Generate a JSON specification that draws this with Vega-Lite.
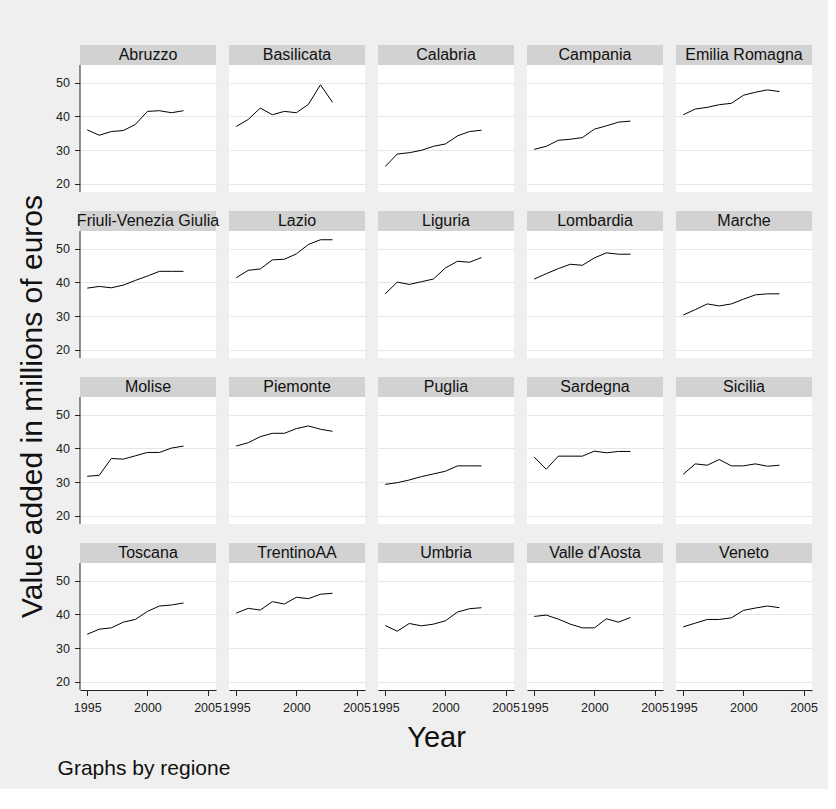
{
  "$schema": "https://vega.github.io/schema/vega-lite/v6.json",
  "background": "#efefef",
  "padding": {"left": 17, "top": 44, "right": 10, "bottom": 10},
  "config": {
    "font": "Liberation Sans",
    "view": {"stroke": null, "fill": "white"},
    "axis": {"labelFont": "Liberation Sans", "titleFont": "Liberation Sans", "labelColor": "#222222", "titleColor": "#111111", "tickColor": "#222222", "domainColor": "#222222", "zindex": 0},
    "header": {"labels": false, "title": null, "labelFontSize": 1, "labelPadding": 0, "labelExpr": "''"},
    "facet": {"spacing": 0},
    "title": {"font": "Liberation Sans"},
    "concat": {"spacing": 0}
  },
  "title": {"text": "Graphs by regione", "orient": "bottom", "anchor": "start", "fontSize": 21, "fontWeight": "normal", "color": "#111111", "dx": 40, "offset": 5},
  "vconcat": [{
    "title": {"text": "Value added in millions of euros", "orient": "left", "anchor": "middle", "fontSize": 30, "fontWeight": "normal", "color": "#111111", "offset": 8, "dx": -8},
    "vconcat": [{
      "title": {"text": "Year", "orient": "bottom", "anchor": "middle", "fontSize": 29, "fontWeight": "normal", "color": "#111111", "offset": 10},
      "data": {"values": [
        {"regione": "Abruzzo", "year": 1995, "value": 36.0},
        {"regione": "Abruzzo", "year": 1996, "value": 34.4},
        {"regione": "Abruzzo", "year": 1997, "value": 35.5},
        {"regione": "Abruzzo", "year": 1998, "value": 35.8},
        {"regione": "Abruzzo", "year": 1999, "value": 37.6},
        {"regione": "Abruzzo", "year": 2000, "value": 41.5},
        {"regione": "Abruzzo", "year": 2001, "value": 41.7},
        {"regione": "Abruzzo", "year": 2002, "value": 41.1},
        {"regione": "Abruzzo", "year": 2003, "value": 41.7},
        {"regione": "Basilicata", "year": 1995, "value": 37.0},
        {"regione": "Basilicata", "year": 1996, "value": 39.1},
        {"regione": "Basilicata", "year": 1997, "value": 42.5},
        {"regione": "Basilicata", "year": 1998, "value": 40.5},
        {"regione": "Basilicata", "year": 1999, "value": 41.5},
        {"regione": "Basilicata", "year": 2000, "value": 41.1},
        {"regione": "Basilicata", "year": 2001, "value": 43.6},
        {"regione": "Basilicata", "year": 2002, "value": 49.4},
        {"regione": "Basilicata", "year": 2003, "value": 44.2},
        {"regione": "Calabria", "year": 1995, "value": 25.1},
        {"regione": "Calabria", "year": 1996, "value": 28.8},
        {"regione": "Calabria", "year": 1997, "value": 29.2},
        {"regione": "Calabria", "year": 1998, "value": 29.9},
        {"regione": "Calabria", "year": 1999, "value": 31.1},
        {"regione": "Calabria", "year": 2000, "value": 31.8},
        {"regione": "Calabria", "year": 2001, "value": 34.2},
        {"regione": "Calabria", "year": 2002, "value": 35.5},
        {"regione": "Calabria", "year": 2003, "value": 35.9},
        {"regione": "Campania", "year": 1995, "value": 30.2},
        {"regione": "Campania", "year": 1996, "value": 31.1},
        {"regione": "Campania", "year": 1997, "value": 32.9},
        {"regione": "Campania", "year": 1998, "value": 33.2},
        {"regione": "Campania", "year": 1999, "value": 33.7},
        {"regione": "Campania", "year": 2000, "value": 36.2},
        {"regione": "Campania", "year": 2001, "value": 37.2},
        {"regione": "Campania", "year": 2002, "value": 38.3},
        {"regione": "Campania", "year": 2003, "value": 38.6},
        {"regione": "Emilia Romagna", "year": 1995, "value": 40.5},
        {"regione": "Emilia Romagna", "year": 1996, "value": 42.2},
        {"regione": "Emilia Romagna", "year": 1997, "value": 42.7},
        {"regione": "Emilia Romagna", "year": 1998, "value": 43.5},
        {"regione": "Emilia Romagna", "year": 1999, "value": 43.9},
        {"regione": "Emilia Romagna", "year": 2000, "value": 46.3},
        {"regione": "Emilia Romagna", "year": 2001, "value": 47.2},
        {"regione": "Emilia Romagna", "year": 2002, "value": 47.9},
        {"regione": "Emilia Romagna", "year": 2003, "value": 47.4},
        {"regione": "Friuli-Venezia Giulia", "year": 1995, "value": 38.3},
        {"regione": "Friuli-Venezia Giulia", "year": 1996, "value": 38.8},
        {"regione": "Friuli-Venezia Giulia", "year": 1997, "value": 38.4},
        {"regione": "Friuli-Venezia Giulia", "year": 1998, "value": 39.2},
        {"regione": "Friuli-Venezia Giulia", "year": 1999, "value": 40.6},
        {"regione": "Friuli-Venezia Giulia", "year": 2000, "value": 41.9},
        {"regione": "Friuli-Venezia Giulia", "year": 2001, "value": 43.3},
        {"regione": "Friuli-Venezia Giulia", "year": 2002, "value": 43.3},
        {"regione": "Friuli-Venezia Giulia", "year": 2003, "value": 43.3},
        {"regione": "Lazio", "year": 1995, "value": 41.4},
        {"regione": "Lazio", "year": 1996, "value": 43.6},
        {"regione": "Lazio", "year": 1997, "value": 44.0},
        {"regione": "Lazio", "year": 1998, "value": 46.7},
        {"regione": "Lazio", "year": 1999, "value": 46.9},
        {"regione": "Lazio", "year": 2000, "value": 48.5},
        {"regione": "Lazio", "year": 2001, "value": 51.3},
        {"regione": "Lazio", "year": 2002, "value": 52.7},
        {"regione": "Lazio", "year": 2003, "value": 52.7},
        {"regione": "Liguria", "year": 1995, "value": 36.6},
        {"regione": "Liguria", "year": 1996, "value": 40.1},
        {"regione": "Liguria", "year": 1997, "value": 39.4},
        {"regione": "Liguria", "year": 1998, "value": 40.2},
        {"regione": "Liguria", "year": 1999, "value": 41.0},
        {"regione": "Liguria", "year": 2000, "value": 44.3},
        {"regione": "Liguria", "year": 2001, "value": 46.3},
        {"regione": "Liguria", "year": 2002, "value": 46.0},
        {"regione": "Liguria", "year": 2003, "value": 47.4},
        {"regione": "Lombardia", "year": 1995, "value": 41.0},
        {"regione": "Lombardia", "year": 1996, "value": 42.6},
        {"regione": "Lombardia", "year": 1997, "value": 44.1},
        {"regione": "Lombardia", "year": 1998, "value": 45.4},
        {"regione": "Lombardia", "year": 1999, "value": 45.1},
        {"regione": "Lombardia", "year": 2000, "value": 47.3},
        {"regione": "Lombardia", "year": 2001, "value": 48.8},
        {"regione": "Lombardia", "year": 2002, "value": 48.4},
        {"regione": "Lombardia", "year": 2003, "value": 48.4},
        {"regione": "Marche", "year": 1995, "value": 30.3},
        {"regione": "Marche", "year": 1996, "value": 31.9},
        {"regione": "Marche", "year": 1997, "value": 33.6},
        {"regione": "Marche", "year": 1998, "value": 33.0},
        {"regione": "Marche", "year": 1999, "value": 33.6},
        {"regione": "Marche", "year": 2000, "value": 35.0},
        {"regione": "Marche", "year": 2001, "value": 36.3},
        {"regione": "Marche", "year": 2002, "value": 36.6},
        {"regione": "Marche", "year": 2003, "value": 36.6},
        {"regione": "Molise", "year": 1995, "value": 31.7},
        {"regione": "Molise", "year": 1996, "value": 32.0},
        {"regione": "Molise", "year": 1997, "value": 37.0},
        {"regione": "Molise", "year": 1998, "value": 36.8},
        {"regione": "Molise", "year": 1999, "value": 37.8},
        {"regione": "Molise", "year": 2000, "value": 38.8},
        {"regione": "Molise", "year": 2001, "value": 38.8},
        {"regione": "Molise", "year": 2002, "value": 40.1},
        {"regione": "Molise", "year": 2003, "value": 40.7},
        {"regione": "Piemonte", "year": 1995, "value": 40.7},
        {"regione": "Piemonte", "year": 1996, "value": 41.7},
        {"regione": "Piemonte", "year": 1997, "value": 43.5},
        {"regione": "Piemonte", "year": 1998, "value": 44.5},
        {"regione": "Piemonte", "year": 1999, "value": 44.5},
        {"regione": "Piemonte", "year": 2000, "value": 45.9},
        {"regione": "Piemonte", "year": 2001, "value": 46.7},
        {"regione": "Piemonte", "year": 2002, "value": 45.7},
        {"regione": "Piemonte", "year": 2003, "value": 45.1},
        {"regione": "Puglia", "year": 1995, "value": 29.3},
        {"regione": "Puglia", "year": 1996, "value": 29.8},
        {"regione": "Puglia", "year": 1997, "value": 30.6},
        {"regione": "Puglia", "year": 1998, "value": 31.6},
        {"regione": "Puglia", "year": 1999, "value": 32.4},
        {"regione": "Puglia", "year": 2000, "value": 33.2},
        {"regione": "Puglia", "year": 2001, "value": 34.8},
        {"regione": "Puglia", "year": 2002, "value": 34.8},
        {"regione": "Puglia", "year": 2003, "value": 34.8},
        {"regione": "Sardegna", "year": 1995, "value": 37.4},
        {"regione": "Sardegna", "year": 1996, "value": 33.8},
        {"regione": "Sardegna", "year": 1997, "value": 37.7},
        {"regione": "Sardegna", "year": 1998, "value": 37.7},
        {"regione": "Sardegna", "year": 1999, "value": 37.7},
        {"regione": "Sardegna", "year": 2000, "value": 39.2},
        {"regione": "Sardegna", "year": 2001, "value": 38.7},
        {"regione": "Sardegna", "year": 2002, "value": 39.1},
        {"regione": "Sardegna", "year": 2003, "value": 39.1},
        {"regione": "Sicilia", "year": 1995, "value": 32.3},
        {"regione": "Sicilia", "year": 1996, "value": 35.4},
        {"regione": "Sicilia", "year": 1997, "value": 35.0},
        {"regione": "Sicilia", "year": 1998, "value": 36.7},
        {"regione": "Sicilia", "year": 1999, "value": 34.8},
        {"regione": "Sicilia", "year": 2000, "value": 34.8},
        {"regione": "Sicilia", "year": 2001, "value": 35.4},
        {"regione": "Sicilia", "year": 2002, "value": 34.7},
        {"regione": "Sicilia", "year": 2003, "value": 35.0},
        {"regione": "Toscana", "year": 1995, "value": 34.1},
        {"regione": "Toscana", "year": 1996, "value": 35.6},
        {"regione": "Toscana", "year": 1997, "value": 36.0},
        {"regione": "Toscana", "year": 1998, "value": 37.7},
        {"regione": "Toscana", "year": 1999, "value": 38.5},
        {"regione": "Toscana", "year": 2000, "value": 40.9},
        {"regione": "Toscana", "year": 2001, "value": 42.5},
        {"regione": "Toscana", "year": 2002, "value": 42.8},
        {"regione": "Toscana", "year": 2003, "value": 43.4},
        {"regione": "TrentinoAA", "year": 1995, "value": 40.4},
        {"regione": "TrentinoAA", "year": 1996, "value": 41.8},
        {"regione": "TrentinoAA", "year": 1997, "value": 41.3},
        {"regione": "TrentinoAA", "year": 1998, "value": 43.8},
        {"regione": "TrentinoAA", "year": 1999, "value": 43.1},
        {"regione": "TrentinoAA", "year": 2000, "value": 45.1},
        {"regione": "TrentinoAA", "year": 2001, "value": 44.7},
        {"regione": "TrentinoAA", "year": 2002, "value": 46.0},
        {"regione": "TrentinoAA", "year": 2003, "value": 46.3},
        {"regione": "Umbria", "year": 1995, "value": 36.7},
        {"regione": "Umbria", "year": 1996, "value": 35.0},
        {"regione": "Umbria", "year": 1997, "value": 37.3},
        {"regione": "Umbria", "year": 1998, "value": 36.6},
        {"regione": "Umbria", "year": 1999, "value": 37.1},
        {"regione": "Umbria", "year": 2000, "value": 38.1},
        {"regione": "Umbria", "year": 2001, "value": 40.7},
        {"regione": "Umbria", "year": 2002, "value": 41.7},
        {"regione": "Umbria", "year": 2003, "value": 42.0},
        {"regione": "Valle d'Aosta", "year": 1995, "value": 39.4},
        {"regione": "Valle d'Aosta", "year": 1996, "value": 39.8},
        {"regione": "Valle d'Aosta", "year": 1997, "value": 38.6},
        {"regione": "Valle d'Aosta", "year": 1998, "value": 37.1},
        {"regione": "Valle d'Aosta", "year": 1999, "value": 36.0},
        {"regione": "Valle d'Aosta", "year": 2000, "value": 36.0},
        {"regione": "Valle d'Aosta", "year": 2001, "value": 38.7},
        {"regione": "Valle d'Aosta", "year": 2002, "value": 37.7},
        {"regione": "Valle d'Aosta", "year": 2003, "value": 39.1},
        {"regione": "Veneto", "year": 1995, "value": 36.3},
        {"regione": "Veneto", "year": 1996, "value": 37.4},
        {"regione": "Veneto", "year": 1997, "value": 38.5},
        {"regione": "Veneto", "year": 1998, "value": 38.5},
        {"regione": "Veneto", "year": 1999, "value": 39.0},
        {"regione": "Veneto", "year": 2000, "value": 41.2},
        {"regione": "Veneto", "year": 2001, "value": 41.9},
        {"regione": "Veneto", "year": 2002, "value": 42.5},
        {"regione": "Veneto", "year": 2003, "value": 42.0}
      ]},
      "facet": {"field": "regione", "type": "nominal", "title": null, "header": {"labels": false, "title": null, "labelFontSize": 1, "labelPadding": 0, "labelExpr": "''"}},
      "columns": 5,
      "bounds": "flush",
      "spacing": {"column": 13, "row": 19},
      "spec": {
        "width": 136,
        "height": 147,
        "layer": [
          {
            "mark": {"type": "line", "color": "black", "strokeWidth": 1},
            "encoding": {
              "x": {"field": "year", "type": "quantitative", "title": null,
                    "scale": {"domain": [1994.4, 2005.7], "nice": false, "zero": false},
                    "axis": {"values": [1995, 2000, 2005], "format": "d", "grid": false, "labelFontSize": 12.5, "tickSize": 5.5, "labelPadding": 6, "labelFlush": false}},
              "y": {"field": "value", "type": "quantitative", "title": null,
                    "scale": {"domain": [17.5, 61.26], "nice": false, "zero": false},
                    "axis": {"values": [20, 30, 40, 50], "grid": true, "domain": false, "gridColor": "#e6e6e6", "gridWidth": 1, "labelFontSize": 12.5, "tickSize": 5.5, "labelPadding": 5}}
            }
          },
          {
            "transform": [{"filter": "datum.year == 1995"}],
            "mark": {"type": "rect", "color": "#d2d2d2"},
            "encoding": {
              "y": {"datum": 55.3, "type": "quantitative"},
              "y2": {"datum": 61.26}
            }
          },
          {
            "transform": [{"filter": "datum.year == 1995 && indexof(['Abruzzo', 'Friuli-Venezia Giulia', 'Molise', 'Toscana'], datum.regione) >= 0"}],
            "mark": {"type": "rule", "color": "#222222", "strokeWidth": 1},
            "encoding": {
              "x": {"datum": 1994.4, "type": "quantitative"},
              "y": {"datum": 17.5, "type": "quantitative"},
              "y2": {"datum": 55.3}
            }
          },
          {
            "transform": [{"filter": "datum.year == 1995"}],
            "mark": {"type": "text", "fontSize": 16, "color": "#111111", "baseline": "middle", "align": "center"},
            "encoding": {
              "x": {"datum": 2000.05, "type": "quantitative"},
              "y": {"datum": 58.28, "type": "quantitative"},
              "text": {"field": "regione"}
            }
          }
        ]
      }
    }]
  }]
}
